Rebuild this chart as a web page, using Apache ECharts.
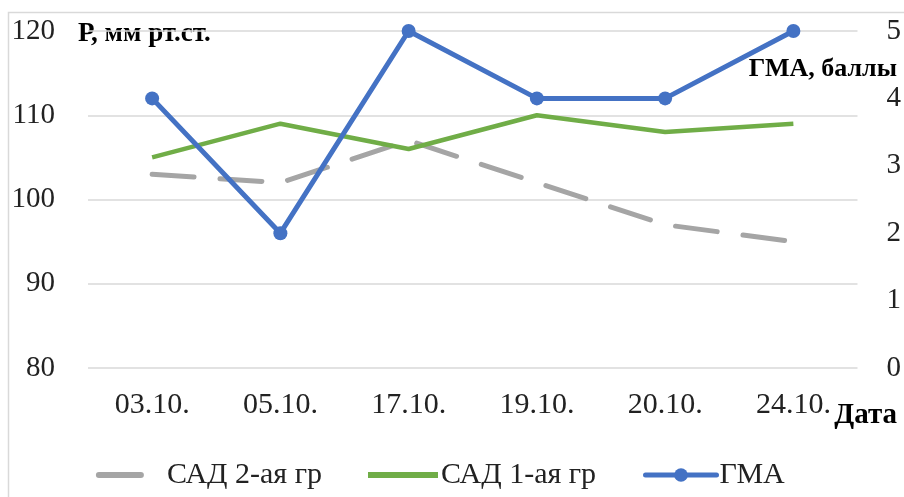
<!DOCTYPE html>
<html>
<head>
<meta charset="utf-8">
<script src="https://cdn.jsdelivr.net/npm/echarts@6/dist/echarts.min.js"></script>
<style>
  html, body { margin: 0; padding: 0; background: #fff; }
  #chart { width: 904px; height: 497px; }
</style>
</head>
<body>
<div id="chart"></div>
<script>
// даты измерений
const dates = ['03.10.', '05.10.', '17.10.', '19.10.', '20.10.', '24.10.'];
// САД, мм рт.ст.
const sad2 = [103, 102, 107, 102, 97, 95];
const sad1 = [105, 109, 106, 110, 108, 109];
// ГМА, баллы
const gma = [4, 2, 5, 4, 4, 5];

const font = '"Liberation Serif", "Times New Roman", serif';
const legendText = { fontFamily: font, fontSize: 30, color: '#222' };

let myChart = echarts.init(document.getElementById('chart'));
let option = {
    animation: false,
    textStyle: { fontFamily: font },
    grid: { left: 88, right: 44, top: 31, bottom: 129 },
    graphic: [
        { type: 'rect', shape: { x: 8.5, y: 12.5, width: 910, height: 500 },
          style: { fill: 'none', stroke: '#d9d9d9', lineWidth: 1.5 } },
        { type: 'text', left: 78, top: 21,
          style: { text: 'Р, мм рт.ст.', font: 'bold 27px ' + font, fill: '#000' } },
        { type: 'text', right: 7, top: 56,
          style: { text: 'ГМА, баллы', font: 'bold 26px ' + font, fill: '#000' } },
        { type: 'text', right: 7, top: 401,
          style: { text: 'Дата', font: 'bold 29px ' + font, fill: '#000' } }
    ],
    // легенда в стиле Excel: три отдельных блока
    legend: [{
        // значок пунктирной серии рисуем сплошной полоской через rich-текст
        left: 83, top: 455,
        itemWidth: 1, itemHeight: 6,
        lineStyle: { width: 0, opacity: 0 },
        itemStyle: { opacity: 0 },
        formatter: function (name) {
            return '{bar| }{gap| }{t|' + name + '}';
        },
        textStyle: {
            fontFamily: font,
            rich: {
                bar: { width: 48, height: 6, backgroundColor: '#a5a5a5', borderRadius: 3,
                       fontSize: 6, verticalAlign: 'middle' },
                gap: { width: 23, fontSize: 6 },
                t: { fontFamily: font, fontSize: 30, color: '#222', verticalAlign: 'middle' }
            }
        },
        data: ['САД 2-ая гр']
    }, {
        left: 363, top: 455,
        icon: 'rect',
        itemWidth: 70, itemHeight: 6,
        itemStyle: { color: '#70ad47', borderWidth: 0, borderType: 'solid' },
        textStyle: Object.assign({ padding: [0, 0, 0, -2] }, legendText),
        data: ['САД 1-ая гр']
    }, {
        left: 638, top: 455,
        itemWidth: 71, itemHeight: 17,
        lineStyle: { width: 5, color: '#4472c4', cap: 'round' },
        textStyle: Object.assign({ padding: [0, 0, 0, -2] }, legendText),
        data: ['ГМА']
    }],
    xAxis: {
        type: 'category',
        data: dates,
        boundaryGap: true,
        axisLine: { show: false },
        axisTick: { show: false },
        axisLabel: { fontSize: 30, color: '#222', margin: 22, fontFamily: font }
    },
    yAxis: [{
        type: 'value',
        min: 80, max: 120, interval: 10,
        axisLabel: { fontSize: 29, color: '#222', margin: 33, fontFamily: font },
        splitLine: { lineStyle: { color: '#d9d9d9', width: 1.5 } }
    }, {
        type: 'value',
        min: 0, max: 5, interval: 1,
        axisLabel: { fontSize: 29, color: '#222', margin: 29, fontFamily: font },
        splitLine: { show: false }
    }],
    series: [{
        name: 'САД 2-ая гр',
        type: 'line',
        data: sad2,
        symbol: 'none',
        lineStyle: { color: '#a5a5a5', width: 5, type: [42, 26], cap: 'round' },
        itemStyle: { color: '#a5a5a5' }
    }, {
        name: 'САД 1-ая гр',
        type: 'line',
        data: sad1,
        symbol: 'none',
        lineStyle: { color: '#70ad47', width: 4.5 },
        itemStyle: { color: '#70ad47' }
    }, {
        name: 'ГМА',
        type: 'line',
        yAxisIndex: 1,
        data: gma,
        symbol: 'circle',
        symbolSize: 14,
        lineStyle: { color: '#4472c4', width: 5 },
        itemStyle: { color: '#4472c4' }
    }]
};
myChart.setOption(option);
</script>
</body>
</html>
